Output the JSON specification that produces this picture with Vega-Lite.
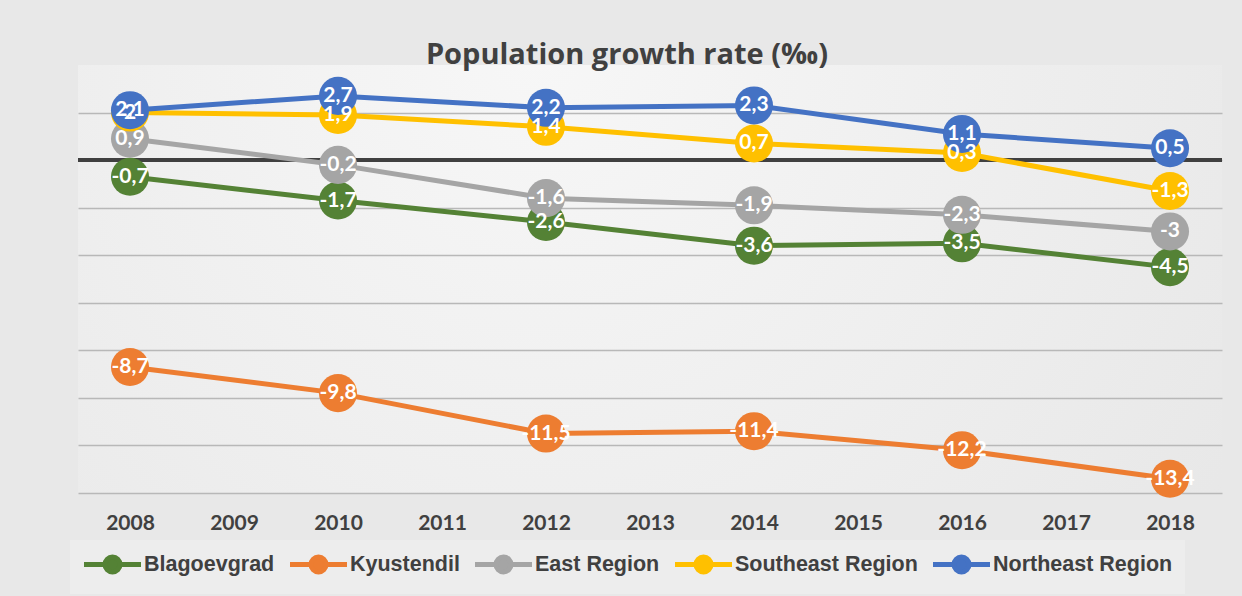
{
  "$schema": "https://vega.github.io/schema/vega-lite/v6.json",
  "width": 1144,
  "height": 428,
  "autosize": {"type": "none"},
  "padding": {"left": 78, "top": 65, "right": 20, "bottom": 103},
  "background": "#e8e8e8",
  "view": {
    "stroke": null,
    "fill": {
      "gradient": "radial",
      "x1": 0.4, "y1": 0.3, "x2": 0.4, "y2": 0.3,
      "r1": 0, "r2": 0.8,
      "stops": [
        {"offset": 0, "color": "#f7f7f7"},
        {"offset": 1, "color": "#e6e6e6"}
      ]
    }
  },
  "config": {
    "locale": {
      "number": {
        "decimal": ",",
        "thousands": " ",
        "grouping": [3],
        "currency": ["", ""],
        "minus": "-"
      }
    }
  },
  "title": {
    "text": "Population growth rate (‰)",
    "font": "Open Sans",
    "fontSize": 29,
    "fontWeight": "bold",
    "color": "#404040",
    "anchor": "middle",
    "frame": "group",
    "offset": 0,
    "dy": 5,
    "dx": -23
  },
  "data": {
    "values": [
      {"year": "2008", "series": "Blagoevgrad", "value": -0.7},
      {"year": "2010", "series": "Blagoevgrad", "value": -1.7},
      {"year": "2012", "series": "Blagoevgrad", "value": -2.6},
      {"year": "2014", "series": "Blagoevgrad", "value": -3.6},
      {"year": "2016", "series": "Blagoevgrad", "value": -3.5},
      {"year": "2018", "series": "Blagoevgrad", "value": -4.5},
      {"year": "2008", "series": "Kyustendil", "value": -8.7},
      {"year": "2010", "series": "Kyustendil", "value": -9.8},
      {"year": "2012", "series": "Kyustendil", "value": -11.5},
      {"year": "2014", "series": "Kyustendil", "value": -11.4},
      {"year": "2016", "series": "Kyustendil", "value": -12.2},
      {"year": "2018", "series": "Kyustendil", "value": -13.4},
      {"year": "2008", "series": "East Region", "value": 0.9},
      {"year": "2010", "series": "East Region", "value": -0.2},
      {"year": "2012", "series": "East Region", "value": -1.6},
      {"year": "2014", "series": "East Region", "value": -1.9},
      {"year": "2016", "series": "East Region", "value": -2.3},
      {"year": "2018", "series": "East Region", "value": -3},
      {"year": "2008", "series": "Southeast Region", "value": 2},
      {"year": "2010", "series": "Southeast Region", "value": 1.9},
      {"year": "2012", "series": "Southeast Region", "value": 1.4},
      {"year": "2014", "series": "Southeast Region", "value": 0.7},
      {"year": "2016", "series": "Southeast Region", "value": 0.3},
      {"year": "2018", "series": "Southeast Region", "value": -1.3},
      {"year": "2008", "series": "Northeast Region", "value": 2.1},
      {"year": "2010", "series": "Northeast Region", "value": 2.7},
      {"year": "2012", "series": "Northeast Region", "value": 2.2},
      {"year": "2014", "series": "Northeast Region", "value": 2.3},
      {"year": "2016", "series": "Northeast Region", "value": 1.1},
      {"year": "2018", "series": "Northeast Region", "value": 0.5}
    ]
  },
  "layer": [
    {
      "mark": {"type": "rule", "color": "#404040", "strokeWidth": 3},
      "encoding": {
        "y": {"datum": 0, "type": "quantitative", "scale": {"domain": [-14, 4], "nice": false, "zero": false},
          "axis": {"values": [-14, -12, -10, -8, -6, -4, -2, 0, 2], "labels": false, "ticks": false, "domain": false, "title": null, "grid": true, "gridColor": "#b8b8b8", "gridWidth": 1.5}}
      }
    },
    {
      "mark": {"type": "line", "strokeWidth": 5},
      "encoding": {
        "x": {"field": "year", "type": "ordinal",
          "scale": {"type": "point", "padding": 0.5, "domain": ["2008","2009","2010","2011","2012","2013","2014","2015","2016","2017","2018"]},
          "axis": {"title": null, "domain": false, "ticks": false, "grid": false, "labelAngle": 0, "labelFont": "Lato", "labelFontSize": 21, "labelFontWeight": "bold", "labelColor": "#404040", "labelPadding": 19}},
        "y": {"field": "value", "type": "quantitative"},
        "color": {"field": "series", "type": "nominal",
          "scale": {"domain": ["Blagoevgrad", "Kyustendil", "East Region", "Southeast Region", "Northeast Region"],
                    "range": ["#548235", "#ED7D31", "#A5A5A5", "#FFC000", "#4472C4"]},
          "legend": {
            "orient": "none", "legendX": -8, "legendY": 475, "direction": "horizontal", "title": null,
            "fillColor": "#ededed", "padding": 12,
            "symbolType": "M-2.85,0H-0.75A0.75,0.75,0,1,1,0.75,0A0.75,0.75,0,1,1,-0.75,0M0.75,0H2.85",
            "symbolSize": 400, "symbolStrokeWidth": 5, "symbolOffset": 18, "labelOffset": 19,
            "labelFont": "Liberation Sans", "labelFontSize": 21.5, "labelFontWeight": "bold", "labelColor": "#404040",
            "columnPadding": 5, "labelLimit": 400,
            "encode": {"symbols": {"update": {"fill": {"scale": "color", "field": "value"}, "stroke": {"scale": "color", "field": "value"}, "opacity": {"value": 1}}}}
          }}
      }
    },
    {
      "mark": {"type": "point", "shape": "circle", "filled": true, "opacity": 1, "size": 1450},
      "encoding": {
        "x": {"field": "year", "type": "ordinal"},
        "y": {"field": "value", "type": "quantitative"},
        "color": {"field": "series", "type": "nominal"}
      }
    },
    {
      "mark": {"type": "text", "color": "white", "font": "Lato", "fontSize": 21, "fontWeight": "bold", "align": "center", "baseline": "middle"},
      "encoding": {
        "x": {"field": "year", "type": "ordinal"},
        "y": {"field": "value", "type": "quantitative"},
        "text": {"field": "value", "type": "quantitative", "format": "~g"}
      }
    }
  ]
}
